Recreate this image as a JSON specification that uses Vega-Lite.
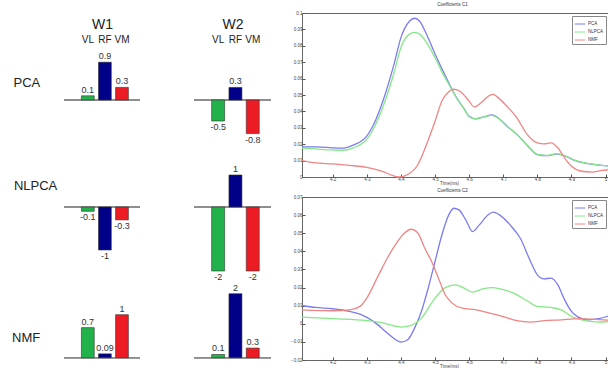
{
  "$schema": "https://vega.github.io/schema/vega-lite/v6.json",
  "background": "white",
  "padding": {"left": 12, "top": 1, "right": 0, "bottom": 0},
  "config": {
    "font": "Liberation Sans",
    "view": {"stroke": null},
    "axis": {"grid": false}
  },
  "datasets": {
    "weights": [
      {"w": "W1", "method": "PCA", "muscle": "VL", "v": 0.1},
      {"w": "W1", "method": "PCA", "muscle": "RF", "v": 0.9},
      {"w": "W1", "method": "PCA", "muscle": "VM", "v": 0.3},
      {"w": "W2", "method": "PCA", "muscle": "VL", "v": -0.5},
      {"w": "W2", "method": "PCA", "muscle": "RF", "v": 0.3},
      {"w": "W2", "method": "PCA", "muscle": "VM", "v": -0.8},
      {"w": "W1", "method": "NLPCA", "muscle": "VL", "v": -0.1},
      {"w": "W1", "method": "NLPCA", "muscle": "RF", "v": -1},
      {"w": "W1", "method": "NLPCA", "muscle": "VM", "v": -0.3},
      {"w": "W2", "method": "NLPCA", "muscle": "VL", "v": -2},
      {"w": "W2", "method": "NLPCA", "muscle": "RF", "v": 1},
      {"w": "W2", "method": "NLPCA", "muscle": "VM", "v": -2},
      {"w": "W1", "method": "NMF", "muscle": "VL", "v": 0.7},
      {"w": "W1", "method": "NMF", "muscle": "RF", "v": 0.09},
      {"w": "W1", "method": "NMF", "muscle": "VM", "v": 1},
      {"w": "W2", "method": "NMF", "muscle": "VL", "v": 0.1},
      {"w": "W2", "method": "NMF", "muscle": "RF", "v": 2},
      {"w": "W2", "method": "NMF", "muscle": "VM", "v": 0.3}
    ],
    "c1": [
      {"m": "PCA", "t": 4.11, "v": 0.0184}, {"m": "PCA", "t": 4.153, "v": 0.0184}, {"m": "PCA", "t": 4.2, "v": 0.0178},
      {"m": "PCA", "t": 4.231, "v": 0.0176}, {"m": "PCA", "t": 4.26, "v": 0.0194}, {"m": "PCA", "t": 4.3, "v": 0.0249},
      {"m": "PCA", "t": 4.32, "v": 0.032}, {"m": "PCA", "t": 4.35, "v": 0.048}, {"m": "PCA", "t": 4.38, "v": 0.069},
      {"m": "PCA", "t": 4.4, "v": 0.085}, {"m": "PCA", "t": 4.425, "v": 0.095}, {"m": "PCA", "t": 4.44, "v": 0.0968},
      {"m": "PCA", "t": 4.455, "v": 0.095}, {"m": "PCA", "t": 4.475, "v": 0.087}, {"m": "PCA", "t": 4.5, "v": 0.075},
      {"m": "PCA", "t": 4.525, "v": 0.064}, {"m": "PCA", "t": 4.545, "v": 0.0555}, {"m": "PCA", "t": 4.564, "v": 0.048},
      {"m": "PCA", "t": 4.584, "v": 0.042}, {"m": "PCA", "t": 4.6, "v": 0.037}, {"m": "PCA", "t": 4.618, "v": 0.0355},
      {"m": "PCA", "t": 4.643, "v": 0.0367}, {"m": "PCA", "t": 4.667, "v": 0.0378}, {"m": "PCA", "t": 4.687, "v": 0.0357},
      {"m": "PCA", "t": 4.711, "v": 0.031}, {"m": "PCA", "t": 4.74, "v": 0.026}, {"m": "PCA", "t": 4.77, "v": 0.0194},
      {"m": "PCA", "t": 4.8, "v": 0.0137}, {"m": "PCA", "t": 4.828, "v": 0.013}, {"m": "PCA", "t": 4.857, "v": 0.0141},
      {"m": "PCA", "t": 4.882, "v": 0.0127}, {"m": "PCA", "t": 4.911, "v": 0.01}, {"m": "PCA", "t": 4.936, "v": 0.0086},
      {"m": "PCA", "t": 4.97, "v": 0.0076}, {"m": "PCA", "t": 5.01, "v": 0.0067},
      {"m": "NLPCA", "t": 4.11, "v": 0.0176}, {"m": "NLPCA", "t": 4.15, "v": 0.0171}, {"m": "NLPCA", "t": 4.2, "v": 0.0165},
      {"m": "NLPCA", "t": 4.231, "v": 0.0163}, {"m": "NLPCA", "t": 4.26, "v": 0.0178}, {"m": "NLPCA", "t": 4.3, "v": 0.0229},
      {"m": "NLPCA", "t": 4.32, "v": 0.0296}, {"m": "NLPCA", "t": 4.35, "v": 0.0443}, {"m": "NLPCA", "t": 4.38, "v": 0.0637},
      {"m": "NLPCA", "t": 4.4, "v": 0.079}, {"m": "NLPCA", "t": 4.425, "v": 0.0871}, {"m": "NLPCA", "t": 4.44, "v": 0.0882},
      {"m": "NLPCA", "t": 4.455, "v": 0.0871}, {"m": "NLPCA", "t": 4.475, "v": 0.082}, {"m": "NLPCA", "t": 4.5, "v": 0.0729},
      {"m": "NLPCA", "t": 4.525, "v": 0.0622}, {"m": "NLPCA", "t": 4.545, "v": 0.0549}, {"m": "NLPCA", "t": 4.564, "v": 0.048},
      {"m": "NLPCA", "t": 4.584, "v": 0.0418}, {"m": "NLPCA", "t": 4.6, "v": 0.0368}, {"m": "NLPCA", "t": 4.618, "v": 0.0354},
      {"m": "NLPCA", "t": 4.643, "v": 0.0366}, {"m": "NLPCA", "t": 4.667, "v": 0.0376}, {"m": "NLPCA", "t": 4.687, "v": 0.0356},
      {"m": "NLPCA", "t": 4.711, "v": 0.031}, {"m": "NLPCA", "t": 4.74, "v": 0.026}, {"m": "NLPCA", "t": 4.77, "v": 0.0195},
      {"m": "NLPCA", "t": 4.8, "v": 0.0138}, {"m": "NLPCA", "t": 4.828, "v": 0.0132}, {"m": "NLPCA", "t": 4.857, "v": 0.0142},
      {"m": "NLPCA", "t": 4.882, "v": 0.0128}, {"m": "NLPCA", "t": 4.911, "v": 0.0101}, {"m": "NLPCA", "t": 4.936, "v": 0.0087},
      {"m": "NLPCA", "t": 4.97, "v": 0.0076}, {"m": "NLPCA", "t": 5.01, "v": 0.0067},
      {"m": "NMF", "t": 4.11, "v": 0.01}, {"m": "NMF", "t": 4.15, "v": 0.0086}, {"m": "NMF", "t": 4.2, "v": 0.008},
      {"m": "NMF", "t": 4.25, "v": 0.0071}, {"m": "NMF", "t": 4.3, "v": 0.0059}, {"m": "NMF", "t": 4.35, "v": 0.0031},
      {"m": "NMF", "t": 4.375, "v": 0.001}, {"m": "NMF", "t": 4.395, "v": 0.0}, {"m": "NMF", "t": 4.42, "v": 0.0015},
      {"m": "NMF", "t": 4.45, "v": 0.0076}, {"m": "NMF", "t": 4.475, "v": 0.0198}, {"m": "NMF", "t": 4.5, "v": 0.034},
      {"m": "NMF", "t": 4.52, "v": 0.0463}, {"m": "NMF", "t": 4.54, "v": 0.052}, {"m": "NMF", "t": 4.555, "v": 0.0535},
      {"m": "NMF", "t": 4.575, "v": 0.052}, {"m": "NMF", "t": 4.6, "v": 0.0463}, {"m": "NMF", "t": 4.615, "v": 0.0427},
      {"m": "NMF", "t": 4.635, "v": 0.0453}, {"m": "NMF", "t": 4.66, "v": 0.0498}, {"m": "NMF", "t": 4.67, "v": 0.0504},
      {"m": "NMF", "t": 4.685, "v": 0.0484}, {"m": "NMF", "t": 4.71, "v": 0.0433}, {"m": "NMF", "t": 4.74, "v": 0.0361},
      {"m": "NMF", "t": 4.77, "v": 0.026}, {"m": "NMF", "t": 4.8, "v": 0.0208}, {"m": "NMF", "t": 4.82, "v": 0.0202},
      {"m": "NMF", "t": 4.84, "v": 0.0208}, {"m": "NMF", "t": 4.86, "v": 0.0178}, {"m": "NMF", "t": 4.88, "v": 0.0116},
      {"m": "NMF", "t": 4.9, "v": 0.0065}, {"m": "NMF", "t": 4.93, "v": 0.0035}, {"m": "NMF", "t": 4.96, "v": 0.003},
      {"m": "NMF", "t": 4.99, "v": 0.004}, {"m": "NMF", "t": 5.01, "v": 0.0045}
    ],
    "c2": [
      {"m": "PCA", "t": 4.11, "v": 0.0101}, {"m": "PCA", "t": 4.15, "v": 0.009}, {"m": "PCA", "t": 4.2, "v": 0.0083},
      {"m": "PCA", "t": 4.25, "v": 0.0068}, {"m": "PCA", "t": 4.28, "v": 0.0053}, {"m": "PCA", "t": 4.3, "v": 0.0035},
      {"m": "PCA", "t": 4.33, "v": -0.0002}, {"m": "PCA", "t": 4.36, "v": -0.0051}, {"m": "PCA", "t": 4.4, "v": -0.0101},
      {"m": "PCA", "t": 4.42, "v": -0.0088}, {"m": "PCA", "t": 4.44, "v": -0.0024}, {"m": "PCA", "t": 4.46, "v": 0.0068},
      {"m": "PCA", "t": 4.48, "v": 0.0197}, {"m": "PCA", "t": 4.5, "v": 0.0344}, {"m": "PCA", "t": 4.52, "v": 0.049},
      {"m": "PCA", "t": 4.54, "v": 0.06}, {"m": "PCA", "t": 4.555, "v": 0.0638}, {"m": "PCA", "t": 4.57, "v": 0.0629},
      {"m": "PCA", "t": 4.59, "v": 0.0574}, {"m": "PCA", "t": 4.61, "v": 0.0509}, {"m": "PCA", "t": 4.63, "v": 0.0546},
      {"m": "PCA", "t": 4.655, "v": 0.06}, {"m": "PCA", "t": 4.67, "v": 0.0616}, {"m": "PCA", "t": 4.69, "v": 0.06},
      {"m": "PCA", "t": 4.72, "v": 0.0546}, {"m": "PCA", "t": 4.75, "v": 0.0472}, {"m": "PCA", "t": 4.78, "v": 0.0344},
      {"m": "PCA", "t": 4.8, "v": 0.027}, {"m": "PCA", "t": 4.82, "v": 0.0248}, {"m": "PCA", "t": 4.84, "v": 0.0252},
      {"m": "PCA", "t": 4.86, "v": 0.0215}, {"m": "PCA", "t": 4.88, "v": 0.0132}, {"m": "PCA", "t": 4.9, "v": 0.0068},
      {"m": "PCA", "t": 4.92, "v": 0.0037}, {"m": "PCA", "t": 4.95, "v": 0.0022}, {"m": "PCA", "t": 4.98, "v": 0.0028},
      {"m": "PCA", "t": 5.01, "v": 0.0044},
      {"m": "NLPCA", "t": 4.11, "v": 0.0037}, {"m": "NLPCA", "t": 4.2, "v": 0.0028}, {"m": "NLPCA", "t": 4.3, "v": 0.0017},
      {"m": "NLPCA", "t": 4.35, "v": 0.0004}, {"m": "NLPCA", "t": 4.4, "v": -0.0018}, {"m": "NLPCA", "t": 4.43, "v": -0.0009},
      {"m": "NLPCA", "t": 4.46, "v": 0.0031}, {"m": "NLPCA", "t": 4.5, "v": 0.0142}, {"m": "NLPCA", "t": 4.53, "v": 0.02},
      {"m": "NLPCA", "t": 4.56, "v": 0.0215}, {"m": "NLPCA", "t": 4.585, "v": 0.0197}, {"m": "NLPCA", "t": 4.61, "v": 0.0175},
      {"m": "NLPCA", "t": 4.64, "v": 0.0193}, {"m": "NLPCA", "t": 4.67, "v": 0.02}, {"m": "NLPCA", "t": 4.7, "v": 0.0188},
      {"m": "NLPCA", "t": 4.73, "v": 0.0169}, {"m": "NLPCA", "t": 4.77, "v": 0.0127}, {"m": "NLPCA", "t": 4.8, "v": 0.0096},
      {"m": "NLPCA", "t": 4.84, "v": 0.009}, {"m": "NLPCA", "t": 4.87, "v": 0.0077}, {"m": "NLPCA", "t": 4.9, "v": 0.004},
      {"m": "NLPCA", "t": 4.94, "v": 0.0017}, {"m": "NLPCA", "t": 4.98, "v": 0.0009}, {"m": "NLPCA", "t": 5.01, "v": 0.0013},
      {"m": "NMF", "t": 4.11, "v": 0.0077}, {"m": "NMF", "t": 4.2, "v": 0.0072}, {"m": "NMF", "t": 4.25, "v": 0.0077},
      {"m": "NMF", "t": 4.28, "v": 0.0096}, {"m": "NMF", "t": 4.3, "v": 0.0142}, {"m": "NMF", "t": 4.33, "v": 0.0252},
      {"m": "NMF", "t": 4.36, "v": 0.0362}, {"m": "NMF", "t": 4.39, "v": 0.0454}, {"m": "NMF", "t": 4.41, "v": 0.05},
      {"m": "NMF", "t": 4.43, "v": 0.0522}, {"m": "NMF", "t": 4.45, "v": 0.05}, {"m": "NMF", "t": 4.47, "v": 0.0417},
      {"m": "NMF", "t": 4.49, "v": 0.0344}, {"m": "NMF", "t": 4.51, "v": 0.0252}, {"m": "NMF", "t": 4.53, "v": 0.016},
      {"m": "NMF", "t": 4.55, "v": 0.0114}, {"m": "NMF", "t": 4.58, "v": 0.0086}, {"m": "NMF", "t": 4.62, "v": 0.0077},
      {"m": "NMF", "t": 4.66, "v": 0.0059}, {"m": "NMF", "t": 4.7, "v": 0.004}, {"m": "NMF", "t": 4.74, "v": 0.0017},
      {"m": "NMF", "t": 4.78, "v": 0.0009}, {"m": "NMF", "t": 4.82, "v": 0.0017}, {"m": "NMF", "t": 4.87, "v": 0.0022},
      {"m": "NMF", "t": 4.92, "v": 0.0028}, {"m": "NMF", "t": 4.96, "v": 0.0026}, {"m": "NMF", "t": 5.01, "v": 0.002}
    ]
  },
  "spacing": 18,
  "resolve": {"scale": {"color": "independent"}},
  "hconcat": [
    {
      "bounds": "flush",
      "columns": 2,
      "spacing": {"row": 0, "column": 54},
      "concat": [
        {
          "width": 76, "height": 137.5,
          "title": {"text": "PCA", "orient": "left", "angle": 0, "align": "left", "baseline": "middle", "anchor": "middle", "frame": "group", "offset": 23, "dy": 1, "fontSize": 13, "fontWeight": "normal", "color": "#222"},
          "data": {"name": "weights"},
          "transform": [{"filter": "datum.w === 'W1' && datum.method === 'PCA'"}],
          "layer": [
            {"mark": {"type": "rule", "color": "#8c8c8c", "strokeWidth": 1.5}, "encoding": {"y": {"datum": 0, "type": "quantitative", "axis": null}}},
            {
              "encoding": {
                "x": {"field": "muscle", "type": "nominal", "scale": {"domain": ["VL", "RF", "VM"], "paddingInner": 0.25, "paddingOuter": 0.85, "align": 0.6},
                      "axis": {"orient": "top", "title": "W1", "titleFontSize": 14, "titleFontWeight": "normal", "titleColor": "#222", "titlePadding": 3, "domain": false, "ticks": false, "tickSize": 0, "labelPadding": 2, "offset": -33, "labelFontSize": 10, "labelColor": "#222", "labelAngle": 0}},
                "y": {"field": "v", "type": "quantitative", "scale": {"domain": [-1.2024, 2.0714], "nice": false, "zero": true}, "axis": null}
              },
              "layer": [
                {"mark": {"type": "bar", "stroke": "#333", "strokeWidth": 0.6},
                 "encoding": {"color": {"field": "muscle", "type": "nominal", "scale": {"domain": ["VL", "RF", "VM"], "range": ["#22b24c", "#000088", "#ed1c24"]}, "legend": null}}},
                {"transform": [{"filter": "datum.v >= 0"}], "mark": {"type": "text", "baseline": "bottom", "dy": -1, "fontSize": 9, "color": "#333"}, "encoding": {"text": {"field": "v", "type": "nominal"}}},
                {"transform": [{"filter": "datum.v < 0"}], "mark": {"type": "text", "baseline": "top", "dy": 2, "fontSize": 9, "color": "#333"}, "encoding": {"text": {"field": "v", "type": "nominal"}}}
              ]
            }
          ]
        },
        {
          "width": 77, "height": 137.5,
          "data": {"name": "weights"},
          "transform": [{"filter": "datum.w === 'W2' && datum.method === 'PCA'"}],
          "layer": [
            {"mark": {"type": "rule", "color": "#8c8c8c", "strokeWidth": 1.5}, "encoding": {"y": {"datum": 0, "type": "quantitative", "axis": null}}},
            {
              "encoding": {
                "x": {"field": "muscle", "type": "nominal", "scale": {"domain": ["VL", "RF", "VM"], "paddingInner": 0.25, "paddingOuter": 0.85, "align": 0.6},
                      "axis": {"orient": "top", "title": "W2", "titleFontSize": 14, "titleFontWeight": "normal", "titleColor": "#222", "titlePadding": 3, "domain": false, "ticks": false, "tickSize": 0, "labelPadding": 2, "offset": -33, "labelFontSize": 10, "labelColor": "#222", "labelAngle": 0}},
                "y": {"field": "v", "type": "quantitative", "scale": {"domain": [-1.2024, 2.0714], "nice": false, "zero": true}, "axis": null}
              },
              "layer": [
                {"mark": {"type": "bar", "stroke": "#333", "strokeWidth": 0.6},
                 "encoding": {"color": {"field": "muscle", "type": "nominal", "scale": {"domain": ["VL", "RF", "VM"], "range": ["#22b24c", "#000088", "#ed1c24"]}, "legend": null}}},
                {"transform": [{"filter": "datum.v >= 0"}], "mark": {"type": "text", "baseline": "bottom", "dy": -1, "fontSize": 9, "color": "#333"}, "encoding": {"text": {"field": "v", "type": "nominal"}}},
                {"transform": [{"filter": "datum.v < 0"}], "mark": {"type": "text", "baseline": "top", "dy": 2, "fontSize": 9, "color": "#333"}, "encoding": {"text": {"field": "v", "type": "nominal"}}}
              ]
            }
          ]
        },
        {
          "width": 76, "height": 130,
          "title": {"text": "NLPCA", "orient": "left", "angle": 0, "align": "left", "baseline": "middle", "anchor": "middle", "frame": "group", "offset": 6, "dy": -30, "fontSize": 13, "fontWeight": "normal", "color": "#222"},
          "data": {"name": "weights"},
          "transform": [{"filter": "datum.w === 'W1' && datum.method === 'NLPCA'"}],
          "layer": [
            {"mark": {"type": "rule", "color": "#8c8c8c", "strokeWidth": 1.5}, "encoding": {"y": {"datum": 0, "type": "quantitative", "axis": null}}},
            {
              "encoding": {
                "x": {"field": "muscle", "type": "nominal", "scale": {"domain": ["VL", "RF", "VM"], "paddingInner": 0.25, "paddingOuter": 0.85, "align": 0.6}, "axis": null},
                "y": {"field": "v", "type": "quantitative", "scale": {"domain": [-1.721, 1.302], "nice": false, "zero": true}, "axis": null}
              },
              "layer": [
                {"mark": {"type": "bar", "stroke": "#333", "strokeWidth": 0.6},
                 "encoding": {"color": {"field": "muscle", "type": "nominal", "scale": {"domain": ["VL", "RF", "VM"], "range": ["#22b24c", "#000088", "#ed1c24"]}, "legend": null}}},
                {"transform": [{"filter": "datum.v >= 0"}], "mark": {"type": "text", "baseline": "bottom", "dy": -1, "fontSize": 9, "color": "#333"}, "encoding": {"text": {"field": "v", "type": "nominal"}}},
                {"transform": [{"filter": "datum.v < 0"}], "mark": {"type": "text", "baseline": "top", "dy": 2, "fontSize": 9, "color": "#333"}, "encoding": {"text": {"field": "v", "type": "nominal"}}}
              ]
            }
          ]
        },
        {
          "width": 77, "height": 130,
          "data": {"name": "weights"},
          "transform": [{"filter": "datum.w === 'W2' && datum.method === 'NLPCA'"}],
          "layer": [
            {"mark": {"type": "rule", "color": "#8c8c8c", "strokeWidth": 1.5}, "encoding": {"y": {"datum": 0, "type": "quantitative", "axis": null}}},
            {
              "encoding": {
                "x": {"field": "muscle", "type": "nominal", "scale": {"domain": ["VL", "RF", "VM"], "paddingInner": 0.25, "paddingOuter": 0.85, "align": 0.6}, "axis": null},
                "y": {"field": "v", "type": "quantitative", "scale": {"domain": [-2.3125, 1.75], "nice": false, "zero": true}, "axis": null}
              },
              "layer": [
                {"mark": {"type": "bar", "stroke": "#333", "strokeWidth": 0.6},
                 "encoding": {"color": {"field": "muscle", "type": "nominal", "scale": {"domain": ["VL", "RF", "VM"], "range": ["#22b24c", "#000088", "#ed1c24"]}, "legend": null}}},
                {"transform": [{"filter": "datum.v >= 0"}], "mark": {"type": "text", "baseline": "bottom", "dy": -1, "fontSize": 9, "color": "#333"}, "encoding": {"text": {"field": "v", "type": "nominal"}}},
                {"transform": [{"filter": "datum.v < 0"}], "mark": {"type": "text", "baseline": "top", "dy": 2, "fontSize": 9, "color": "#333"}, "encoding": {"text": {"field": "v", "type": "nominal"}}}
              ]
            }
          ]
        },
        {
          "width": 76, "height": 82,
          "title": {"text": "NMF", "orient": "left", "angle": 0, "align": "left", "baseline": "middle", "anchor": "middle", "frame": "group", "offset": 23, "dy": 16, "fontSize": 13, "fontWeight": "normal", "color": "#222"},
          "data": {"name": "weights"},
          "transform": [{"filter": "datum.w === 'W1' && datum.method === 'NMF'"}],
          "layer": [
            {"mark": {"type": "rule", "color": "#8c8c8c", "strokeWidth": 1.5}, "encoding": {"y": {"datum": 0, "type": "quantitative", "axis": null}}},
            {
              "encoding": {
                "x": {"field": "muscle", "type": "nominal", "scale": {"domain": ["VL", "RF", "VM"], "paddingInner": 0.25, "paddingOuter": 0.85, "align": 0.6}, "axis": null},
                "y": {"field": "v", "type": "quantitative", "scale": {"domain": [-0.123, 1.784], "nice": false, "zero": true}, "axis": null}
              },
              "layer": [
                {"mark": {"type": "bar", "stroke": "#333", "strokeWidth": 0.6},
                 "encoding": {"color": {"field": "muscle", "type": "nominal", "scale": {"domain": ["VL", "RF", "VM"], "range": ["#22b24c", "#000088", "#ed1c24"]}, "legend": null}}},
                {"transform": [{"filter": "datum.v >= 0"}], "mark": {"type": "text", "baseline": "bottom", "dy": -1, "fontSize": 9, "color": "#333"}, "encoding": {"text": {"field": "v", "type": "nominal"}}},
                {"transform": [{"filter": "datum.v < 0"}], "mark": {"type": "text", "baseline": "top", "dy": 2, "fontSize": 9, "color": "#333"}, "encoding": {"text": {"field": "v", "type": "nominal"}}}
              ]
            }
          ]
        },
        {
          "width": 77, "height": 82,
          "data": {"name": "weights"},
          "transform": [{"filter": "datum.w === 'W2' && datum.method === 'NMF'"}],
          "layer": [
            {"mark": {"type": "rule", "color": "#8c8c8c", "strokeWidth": 1.5}, "encoding": {"y": {"datum": 0, "type": "quantitative", "axis": null}}},
            {
              "encoding": {
                "x": {"field": "muscle", "type": "nominal", "scale": {"domain": ["VL", "RF", "VM"], "paddingInner": 0.25, "paddingOuter": 0.85, "align": 0.6}, "axis": null},
                "y": {"field": "v", "type": "quantitative", "scale": {"domain": [-0.166, 2.397], "nice": false, "zero": true}, "axis": null}
              },
              "layer": [
                {"mark": {"type": "bar", "stroke": "#333", "strokeWidth": 0.6},
                 "encoding": {"color": {"field": "muscle", "type": "nominal", "scale": {"domain": ["VL", "RF", "VM"], "range": ["#22b24c", "#000088", "#ed1c24"]}, "legend": null}}},
                {"transform": [{"filter": "datum.v >= 0"}], "mark": {"type": "text", "baseline": "bottom", "dy": -1, "fontSize": 9, "color": "#333"}, "encoding": {"text": {"field": "v", "type": "nominal"}}},
                {"transform": [{"filter": "datum.v < 0"}], "mark": {"type": "text", "baseline": "top", "dy": 2, "fontSize": 9, "color": "#333"}, "encoding": {"text": {"field": "v", "type": "nominal"}}}
              ]
            }
          ]
        }
      ]
    },
    {
      "bounds": "flush",
      "spacing": 20,
      "resolve": {"scale": {"color": "independent"}},
      "vconcat": [
        {
          "width": 307, "height": 164,
          "view": {"stroke": "#666", "strokeWidth": 1},
          "title": {"text": "Coefficients C1", "fontSize": 4.5, "fontWeight": "normal", "color": "#333", "offset": 4, "frame": "group", "dx": -3},
          "data": {"name": "c1"},
          "mark": {"type": "line", "interpolate": "monotone", "strokeWidth": 1.3},
          "encoding": {
            "x": {"field": "t", "type": "quantitative", "scale": {"domain": [4.11, 5.01], "nice": false, "zero": false},
                  "axis": {"title": "Time(ms)", "values": [4.2, 4.3, 4.4, 4.5, 4.6, 4.7, 4.8, 4.9, 5], "format": "~g", "domain": false, "tickSize": -3, "tickColor": "#555", "labelPadding": 2, "labelFontSize": 4.5, "labelColor": "#444", "titleFontSize": 4.5, "titleFontWeight": "normal", "titleColor": "#444", "titlePadding": 0, "titleX": 147}},
            "y": {"field": "v", "type": "quantitative", "scale": {"domain": [0, 0.1], "nice": false},
                  "axis": {"title": null, "values": [0, 0.01, 0.02, 0.03, 0.04, 0.05, 0.06, 0.07, 0.08, 0.09, 0.1], "format": "~g", "domain": false, "tickSize": -3, "tickColor": "#555", "labelPadding": 3, "labelFontSize": 4.5, "labelColor": "#444"}},
            "color": {"field": "m", "type": "nominal", "scale": {"domain": ["PCA", "NLPCA", "NMF"], "range": ["#7b7bf2", "#86e886", "#f08585"]},
                      "legend": {"orient": "top-right", "title": null, "offset": 3, "padding": 2, "strokeColor": "#888", "fillColor": "white", "symbolType": "stroke", "symbolSize": 110, "symbolStrokeWidth": 1, "labelFontSize": 4.5, "labelColor": "#333", "rowPadding": 0, "labelOffset": 2}}
          }
        },
        {
          "width": 307, "height": 163,
          "view": {"stroke": "#666", "strokeWidth": 1},
          "title": {"text": "Coefficients C2", "fontSize": 4.5, "fontWeight": "normal", "color": "#333", "offset": 2, "frame": "group", "dx": -3},
          "data": {"name": "c2"},
          "mark": {"type": "line", "interpolate": "monotone", "strokeWidth": 1.3},
          "encoding": {
            "x": {"field": "t", "type": "quantitative", "scale": {"domain": [4.11, 5.01], "nice": false, "zero": false},
                  "axis": {"title": "Time(ms)", "values": [4.2, 4.3, 4.4, 4.5, 4.6, 4.7, 4.8, 4.9, 5], "format": "~g", "domain": false, "tickSize": -3, "tickColor": "#555", "labelPadding": 2, "labelFontSize": 4.5, "labelColor": "#444", "titleFontSize": 4.5, "titleFontWeight": "normal", "titleColor": "#444", "titlePadding": 0, "titleX": 147}},
            "y": {"field": "v", "type": "quantitative", "scale": {"domain": [-0.02, 0.07], "nice": false},
                  "axis": {"title": null, "values": [-0.02, -0.01, 0, 0.01, 0.02, 0.03, 0.04, 0.05, 0.06, 0.07], "format": "~g", "domain": false, "tickSize": -3, "tickColor": "#555", "labelPadding": 3, "labelFontSize": 4.5, "labelColor": "#444"}},
            "color": {"field": "m", "type": "nominal", "scale": {"domain": ["PCA", "NLPCA", "NMF"], "range": ["#7b7bf2", "#86e886", "#f08585"]},
                      "legend": {"orient": "top-right", "title": null, "offset": 3, "padding": 2, "strokeColor": "#888", "fillColor": "white", "symbolType": "stroke", "symbolSize": 110, "symbolStrokeWidth": 1, "labelFontSize": 4.5, "labelColor": "#333", "rowPadding": 0, "labelOffset": 2}}
          }
        }
      ]
    }
  ]
}
